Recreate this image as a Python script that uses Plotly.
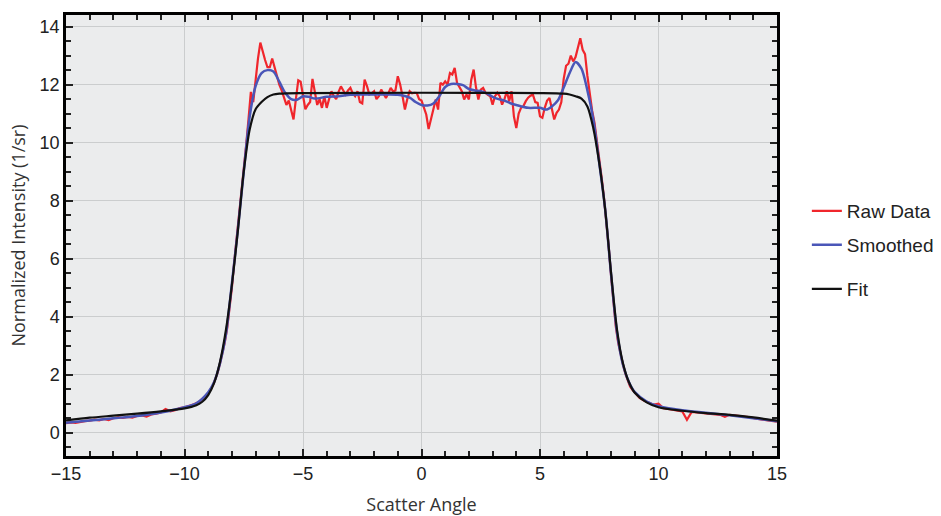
import numpy as np
import plotly.graph_objects as go

# ---------------- data ----------------
# Raw data: coordinate grid (tails every 0.2, centre every 0.1)
raw_x_left = [round(-15.0 + 0.2 * i, 2) for i in range(30)]          # -15.0 .. -9.2
raw_x_mid = [round(-9.1 + 0.1 * i, 2) for i in range(183)]           # -9.1 .. 9.1
raw_x_right = [round(9.2 + 0.2 * i, 2) for i in range(30)]           # 9.2 .. 15.0

raw_y_left = [0.33, 0.36, 0.34, 0.38, 0.40, 0.42, 0.45, 0.43, 0.48, 0.44,
              0.50, 0.53, 0.51, 0.55, 0.52, 0.58, 0.60, 0.56, 0.63, 0.66,
              0.70, 0.82, 0.74, 0.78, 0.85, 0.88, 0.92, 0.98, 1.06, 1.18]

raw_y_mid = [
    1.27, 1.36, 1.48, 1.64, 1.85, 2.08, 2.40, 2.72, 3.12, 3.60,   # -9.1 .. -8.2
    4.25, 5.00, 5.90, 6.70, 7.40, 8.10, 9.00, 9.90, 10.80, 11.75,  # -8.1 .. -7.2
    11.40, 12.20, 12.90, 13.45, 13.10, 12.85, 12.60, 12.60, 12.90, 12.60,  # -7.1 .. -6.2
    12.35, 12.00, 11.80, 11.55, 11.30, 11.45, 11.10, 10.80, 11.50, 12.15,  # -6.1 .. -5.2
    12.10, 11.60, 11.15, 11.30, 11.40, 12.20, 11.70, 11.30, 11.50, 11.20,  # -5.1 .. -4.2
    11.60, 11.20, 11.50, 11.77, 11.60, 11.50, 11.75, 11.94, 11.80, 11.66,  # -4.1 .. -3.2
    11.80, 11.89, 11.70, 11.60, 11.77, 11.40, 11.35, 12.17, 11.95, 11.66,  # -3.1 .. -2.2
    11.70, 11.77, 11.50, 11.60, 11.83, 11.70, 11.54, 11.70, 11.89, 11.77,  # -2.1 .. -1.2
    11.80, 12.29, 12.00, 11.60, 11.14, 11.50, 11.77, 11.70, 11.72, 11.71,  # -1.1 .. -0.2
    11.50, 11.45, 11.20, 10.97, 10.47, 10.80, 11.14, 11.49, 11.14, 12.06,  # -0.1 .. 0.8
    12.00, 12.11, 12.00, 12.40, 12.35, 12.58, 12.06, 11.90, 11.77, 11.49,  # 0.9 .. 1.8
    11.66, 11.49, 12.17, 12.52, 11.90, 11.49, 11.83, 11.89, 11.72, 11.65,  # 1.9 .. 2.8
    11.60, 11.31, 11.60, 11.72, 11.60, 11.31, 11.50, 11.77, 11.43, 11.77,  # 2.9 .. 3.8
    10.90, 10.50, 11.00, 11.20, 11.26, 11.43, 11.55, 11.62, 11.66, 11.40,  # 3.9 .. 4.8
    11.37, 10.91, 10.86, 11.20, 11.45, 11.54, 11.10, 10.80, 11.03, 11.14,  # 4.9 .. 5.8
    11.40, 12.20, 12.65, 12.72, 13.00, 12.80, 12.95, 13.30, 13.60, 13.20,  # 5.9 .. 6.8
    13.05, 12.30, 11.60, 11.10, 10.68, 10.10, 9.40, 8.80, 8.10, 7.30,      # 6.9 .. 7.8
    6.40, 5.40, 4.40, 3.65, 3.10, 2.70, 2.35, 2.05, 1.80, 1.60,           # 7.9 .. 8.8
    1.48, 1.38, 1.28]                                                     # 8.9 .. 9.1

raw_y_right = [1.20, 1.10, 1.03, 0.97, 1.00, 0.85, 0.82, 0.80, 0.78, 0.74,
               0.45, 0.72, 0.70, 0.68, 0.67, 0.66, 0.64, 0.62, 0.55, 0.62,
               0.60, 0.59, 0.56, 0.54, 0.50, 0.48, 0.45, 0.43, 0.40, 0.38]

raw_x = raw_x_left + raw_x_mid + raw_x_right
raw_y = raw_y_left + raw_y_mid + raw_y_right

smooth_x = [-15, -14, -13, -12, -11, -10, -9.5, -9.0, -8.75, -8.5, -8.25, -8.0,
            -7.75, -7.5, -7.25, -7.0, -6.75, -6.5, -6.25, -6.0, -5.75, -5.5,
            -5.25, -5.0, -4.75, -4.5, -4.0, -3.5, -3.0, -2.5, -2.0, -1.5, -1.0,
            -0.5, -0.25, 0.0, 0.25, 0.5, 0.75, 1.0, 1.25, 1.5, 1.75, 2.0, 2.25,
            2.5, 2.75, 3.0, 3.25, 3.5, 3.75, 4.0, 4.5, 5.0, 5.25, 5.5, 5.75,
            6.0, 6.25, 6.5, 6.75, 7.0, 7.25, 7.5, 7.75, 8.0, 8.25, 8.5, 8.75,
            9.0, 9.5, 10, 11, 12, 13, 14, 15]
smooth_y = [0.35, 0.42, 0.50, 0.58, 0.70, 0.88, 1.02, 1.40, 1.75, 2.40, 3.40, 5.15,
            7.00, 9.00, 10.90, 11.95, 12.40, 12.50, 12.45, 12.10, 11.72, 11.50,
            11.48, 11.60, 11.58, 11.52, 11.58, 11.60, 11.65, 11.66, 11.66, 11.66, 11.65,
            11.55, 11.40, 11.30, 11.28, 11.35, 11.60, 11.92, 12.02, 12.02, 11.98, 11.85, 11.80,
            11.77, 11.70, 11.58, 11.50, 11.45, 11.36, 11.30, 11.20, 11.20, 11.14, 11.25, 11.45,
            11.90, 12.40, 12.78, 12.55, 11.80, 10.80, 9.30, 7.70, 5.45, 3.45, 2.35, 1.75,
            1.40, 1.08, 0.92, 0.78, 0.69, 0.60, 0.50, 0.40]

fit_x = [-15, -14, -13, -12, -11, -10, -9.5, -9.25, -9.0, -8.75, -8.5, -8.25,
         -8.0, -7.75, -7.5, -7.25, -7.0, -6.75, -6.5, -6.25, -6.0, -5.0, 0.0,
         5.0, 6.0, 6.25, 6.5, 6.75, 7.0, 7.25, 7.5, 7.75, 8.0, 8.25, 8.5, 8.75,
         9.0, 9.5, 10, 11, 12, 13, 14, 15]
fit_y = [0.43, 0.52, 0.59, 0.66, 0.74, 0.84, 0.95, 1.07, 1.30, 1.72, 2.45, 3.55,
         5.10, 6.95, 9.00, 10.45, 11.15, 11.40, 11.57, 11.66, 11.69, 11.71, 11.72,
         11.71, 11.69, 11.66, 11.60, 11.52, 11.25, 10.50, 9.30, 7.70, 5.50, 3.55, 2.40, 1.75,
         1.38, 1.05, 0.88, 0.76, 0.68, 0.62, 0.53, 0.42]

x_ticks = [-15, -10, -5, 0, 5, 10, 15]
y_ticks = [0, 2, 4, 6, 8, 10, 12, 14]

# ---------------- figure ----------------
fig = go.Figure()
fig.add_trace(go.Scatter(x=raw_x, y=raw_y, mode="lines", name="Raw Data",
                         line=dict(color="#f0262c", width=2.2), legend="legend"))
fig.add_trace(go.Scatter(x=smooth_x, y=smooth_y, mode="lines", name="Smoothed",
                         line=dict(color="#4a56b8", width=2.5, shape="spline", smoothing=0.8),
                         legend="legend2"))
fig.add_trace(go.Scatter(x=fit_x, y=fit_y, mode="lines", name="Fit",
                         line=dict(color="#111111", width=2.2, shape="spline", smoothing=0.8),
                         legend="legend3"))

tick_font = dict(family="Liberation Sans, Arial, sans-serif", size=18, color="#222")
title_font = dict(family="Open Sans, sans-serif", size=18, color="#333")
legend_font = dict(family="Liberation Sans, Arial, sans-serif", size=19, color="#222")

axis_common = dict(
    showline=True, linecolor="black", linewidth=2.5, mirror="allticks",
    ticks="inside", ticklen=7, tickwidth=1.5, tickcolor="#222",
    showgrid=True, gridcolor="#cbcdce", gridwidth=1,
    zeroline=False, tickfont=tick_font,
)

fig.update_xaxes(range=[-15, 15], tickmode="array", tickvals=x_ticks,
                 title=dict(text="Scatter Angle", font=title_font, standoff=22),
                 minor=dict(dtick=1, ticks="inside", ticklen=5, tickwidth=1.5,
                            tickcolor="#222", showgrid=False),
                 **axis_common)
fig.update_yaxes(range=[-0.8, 14.4], tickmode="array", tickvals=y_ticks,
                 title=dict(text="Normalized Intensity (1/sr)", font=title_font, standoff=10),
                 minor=dict(dtick=0.5, ticks="inside", ticklen=5, tickwidth=1.5,
                            tickcolor="#222", showgrid=False),
                 **axis_common)

legend_common = dict(font=legend_font, bgcolor="rgba(0,0,0,0)", xanchor="left",
                     yanchor="middle", x=1.042)
fig.update_layout(
    width=941, height=516,
    margin=dict(l=66, r=164, t=15, b=60, autoexpand=False),
    plot_bgcolor="#ebeced", paper_bgcolor="white",
    showlegend=True,
    legend=dict(y=0.5556, **legend_common),
    legend2=dict(y=0.4785, **legend_common),
    legend3=dict(y=0.3787, **legend_common),
)

fig.write_html("out.html",
               config={"displayModeBar": False},
               post_script="document.body.style.margin='0';document.body.style.overflow='hidden';")
